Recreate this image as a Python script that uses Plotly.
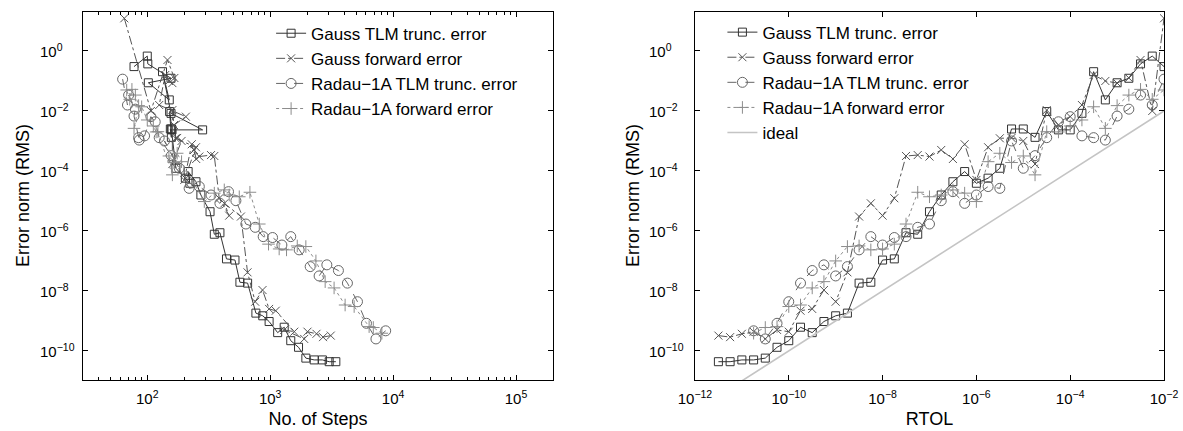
import math
import plotly.graph_objects as go

# ---------------- data ----------------
rtol = [3.16e-12, 5.62e-12, 1e-11, 1.78e-11, 3.16e-11, 5.62e-11, 1e-10, 1.78e-10,
        3.16e-10, 5.62e-10, 1e-9, 1.78e-9, 3.16e-9, 5.62e-9, 1e-8, 1.78e-8,
        3.16e-8, 5.62e-8, 1e-7, 1.78e-7, 3.16e-7, 5.62e-7, 1e-6, 1.78e-6,
        3.16e-6, 5.62e-6, 1e-5, 1.78e-5, 3.16e-5, 5.62e-5, 1e-4, 1.78e-4,
        3.16e-4, 5.62e-4, 1e-3, 1.78e-3, 3.16e-3, 5.62e-3, 1e-2]

gauss_tlm_err = [4.37e-11, 4.37e-11, 5.01e-11, 5.01e-11, 5.75e-11, 1.32e-10, 2.19e-10, 6.17e-10,
                 4.07e-10, 9.55e-10, 1.48e-9, 1.82e-9, 1.82e-8, 1.95e-8, 1.07e-7, 1.17e-7,
                 8.71e-7, 7.76e-7, 4.37e-6, 1.58e-5, 4.37e-5, 9.55e-5, 3.89e-5, 5.75e-5,
                 1.23e-4, 2.51e-3, 2.51e-3, 1.32e-3, 9.55e-3, 2.34e-3, 2.34e-3, 8.32e-3,
                 0.204, 0.0234, 0.0871, 0.123, 0.372, 0.676, 0.302]
gauss_tlm_steps = [3420, 3020, 2660, 2280, 1950, 1700, 1470, 1300,
                   1150, 980, 870, 765, 655, 567, 517, 441,
                   390, 351, 324, 273, 249, 215, 222, 204,
                   171, 157, 154, 157, 152, 159, 282, 156,
                   133, 151, 102, 156, 101, 100, 78]

gauss_fwd_err = [3.24e-10, 2.88e-10, 3.72e-10, 4.37e-10, 2.51e-10, 5.01e-10, 4.37e-10, 2.19e-9,
                 2.51e-9, 1.07e-8, 4.37e-9, 4.17e-8, 3.02e-6, 8.32e-6, 3.24e-6, 1.23e-5,
                 3.16e-4, 3.39e-4, 3.02e-4, 5.01e-4, 2.51e-4, 7.76e-4, 5.01e-5, 6.17e-4,
                 1.23e-3, 1.26e-3, 1.0e-3, 1.70e-4, 1.07e-2, 3.39e-3, 6.46e-3, 1.58e-2,
                 0.158, 0.1, 0.0851, 0.126, 0.501, 0.01, 12.3]
gauss_fwd_steps = [3110, 2690, 2380, 2010, 1890, 1300, 1570, 1110,
                   980, 866, 755, 654, 578, 424, 464, 385,
                   351, 330, 265, 240, 250, 230, 200, 249,
                   170, 175, 190, 160, 160, 165, 206, 125,
                   140, 150, 160, 166, 146, 107, 65]

radau_rtol = rtol[3:]
radau_tlm_err = [4.68e-10, 2.51e-10, 8.32e-10, 4.37e-9, 1.82e-8, 4.79e-8, 7.41e-8, 3.16e-8,
                 6.46e-8, 2.34e-7, 6.46e-7, 3.39e-7, 6.03e-7, 6.46e-7, 1.32e-6, 1.70e-6,
                 1.02e-5, 2.04e-5, 8.32e-6, 1.58e-5, 3.02e-5, 2.63e-5, 1.0e-3, 1.23e-4,
                 3.24e-4, 1.29e-3, 4.37e-3, 6.46e-3, 1.48e-3, 1.29e-3, 1.07e-3, 6.76e-3,
                 1.15e-2, 3.39e-2, 1.58e-2, 0.115]
radau_tlm_steps = [8700, 7250, 6070, 5130, 4250, 3590, 2890, 2500,
                   2115, 1720, 1470, 1245, 1045, 877, 755, 634,
                   526, 458, 390, 330, 265, 219, 138, 182,
                   157, 125, 116, 107, 95, 85, 86, 78,
                   80, 70.5, 69, 63]

radau_fwd_err = [3.89e-10, 6.03e-10, 6.46e-10, 3.02e-9, 3.39e-9, 1.26e-8, 2.04e-8, 1.0e-7,
                 3.02e-7, 3.16e-7, 2.34e-7, 2.51e-7, 3.63e-7, 1.70e-6, 1.95e-5, 1.38e-5,
                 1.58e-5, 2.34e-5, 1.82e-5, 9.55e-6, 2.04e-4, 3.89e-4, 1.91e-4, 3.16e-4,
                 7.41e-5, 2.04e-3, 2.0e-3, 3.16e-3, 5.01e-3, 1.38e-2, 2.63e-3, 1.51e-2,
                 3.39e-2, 5.25e-2, 2.45e-2, 5.01e-2]
radau_fwd_steps = [8100, 6900, 6380, 4820, 4070, 3310, 2800, 2355,
                   1950, 1660, 1358, 1183, 969, 815, 684, 560,
                   464, 423, 351, 291, 190, 175, 165, 150,
                   160, 122, 118, 112, 100, 90, 78, 85,
                   80, 75, 72, 68]

ideal_rtol = [1e-12, 1e-2]
ideal_err = [1e-12, 1e-2]

names = ["Gauss TLM trunc. error", "Gauss forward error",
         "Radau\u22121A TLM trunc. error", "Radau\u22121A forward error", "ideal"]

y_tickvals = [1e-10, 1e-8, 1e-6, 1e-4, 1e-2, 1e0]
y_ticktext = ["10<sup>\u221210</sup>", "10<sup>\u22128</sup>", "10<sup>\u22126</sup>",
              "10<sup>\u22124</sup>", "10<sup>\u22122</sup>", "10<sup>0</sup>"]
x1_tickvals = [1e2, 1e3, 1e4, 1e5]
x1_ticktext = ["10<sup>2</sup>", "10<sup>3</sup>", "10<sup>4</sup>", "10<sup>5</sup>"]
x2_tickvals = [1e-12, 1e-10, 1e-8, 1e-6, 1e-4, 1e-2]
x2_ticktext = ["10<sup>\u221212</sup>", "10<sup>\u221210</sup>", "10<sup>\u22128</sup>",
               "10<sup>\u22126</sup>", "10<sup>\u22124</sup>", "10<sup>\u22122</sup>"]
y_title = "Error norm (RMS)"
x1_title = "No. of Steps"
x2_title = "RTOL"

# ---------------- styles ----------------
FONT = "Liberation Sans, Arial, Helvetica, sans-serif"
styles = [
    dict(color="#333333", dash="solid", symbol="square-open", size=8),
    dict(color="#555555", dash="dashdot", symbol="x-thin-open", size=8),
    dict(color="#666666", dash="dash", symbol="circle-open", size=10),
    dict(color="#8c8c8c", dash="dot", symbol="cross-thin-open", size=9),
]

fig = go.Figure()

series_left = [(gauss_tlm_steps, gauss_tlm_err), (gauss_fwd_steps, gauss_fwd_err),
               (radau_tlm_steps, radau_tlm_err), (radau_fwd_steps, radau_fwd_err)]
series_right = [(rtol, gauss_tlm_err), (rtol, gauss_fwd_err),
                (radau_rtol, radau_tlm_err), (radau_rtol, radau_fwd_err)]


def add(x, y, st, name, xa, ya, leg):
    fig.add_trace(go.Scatter(
        x=x, y=y, name=name, mode="lines+markers", xaxis=xa, yaxis=ya, legend=leg,
        line=dict(color=st["color"], width=1, dash=st["dash"]),
        marker=dict(symbol=st["symbol"], size=st["size"], color=st["color"],
                    line=dict(color=st["color"], width=1)),
    ))


for (x, y), st, nm in zip(series_left, styles, names):
    add(x, y, st, nm, "x", "y", "legend")
for (x, y), st, nm in zip(series_right, styles, names):
    add(x, y, st, nm, "x2", "y2", "legend2")

fig.add_trace(go.Scatter(x=ideal_rtol, y=ideal_err, name=names[4], mode="lines",
                         xaxis="x2", yaxis="y2", legend="legend2",
                         line=dict(color="#c4c4c4", width=1.6)))

minor_left = [m * 10 ** k for k in range(1, 6) for m in range(2, 10)]

axis_common = dict(type="log", showgrid=False, zeroline=False, showline=True,
                   linecolor="black", linewidth=1.3, mirror="allticks", automargin=False,
                   ticks="inside", ticklen=5, tickwidth=1, tickcolor="black",
                   tickmode="array", tickfont=dict(family=FONT, size=15, color="black"),
                   title_font=dict(family=FONT, size=18, color="black"))

fig.update_layout(
    width=1183, height=431,
    margin=dict(l=83, r=19, t=12, b=51, autoexpand=False),
    paper_bgcolor="white", plot_bgcolor="white",
    font=dict(family=FONT, color="black"),
    xaxis=dict(axis_common, domain=[0, 0.4348], range=[1.477, 5.301],
               tickvals=x1_tickvals, ticktext=x1_ticktext, ticklabelstandoff=5,
               minor=dict(tickvals=minor_left, ticks="inside", ticklen=3,
                          tickcolor="black", tickwidth=1),
               title=dict(text=x1_title, standoff=6), anchor="y"),
    yaxis=dict(axis_common, domain=[0, 1], range=[-10.97, 1.3],
               tickvals=y_tickvals, showticklabels=False, anchor="x"),
    xaxis2=dict(axis_common, domain=[0.5661, 1], range=[-12, -2],
                tickvals=x2_tickvals, ticktext=x2_ticktext, ticklabelstandoff=5,
                title=dict(text=x2_title, standoff=6), anchor="y2"),
    yaxis2=dict(axis_common, domain=[0, 1], range=[-10.97, 1.3],
                tickvals=y_tickvals, showticklabels=False, anchor="x2"),
    legend=dict(x=0.174, y=0.99, xanchor="left", yanchor="top",
                bgcolor="rgba(0,0,0,0)", borderwidth=0, tracegroupgap=0,
                font=dict(family=FONT, size=17, color="black")),
    legend2=dict(x=0.5915, y=0.993, xanchor="left", yanchor="top",
                 bgcolor="rgba(0,0,0,0)", borderwidth=0, tracegroupgap=0,
                 font=dict(family=FONT, size=17, color="black")),
    showlegend=True,
)

# left-aligned y tick labels (log axes take annotation positions as log10 values)
for yref, xpos in (("y", -0.0416), ("y2", 0.5217)):
    for v, t in zip(y_tickvals, y_ticktext):
        fig.add_annotation(x=xpos, xref="paper", y=math.log10(v), yref=yref, text=t,
                           showarrow=False, xanchor="left", yanchor="middle",
                           font=dict(family=FONT, size=15, color="black"))

# y axis titles
for xpos in (-0.0555, 0.5088):
    fig.add_annotation(x=xpos, xref="paper", y=0.5, yref="paper", text=y_title,
                       textangle=-90, showarrow=False, xanchor="center", yanchor="middle",
                       font=dict(family=FONT, size=18, color="black"))

fig.write_html("out.html")
